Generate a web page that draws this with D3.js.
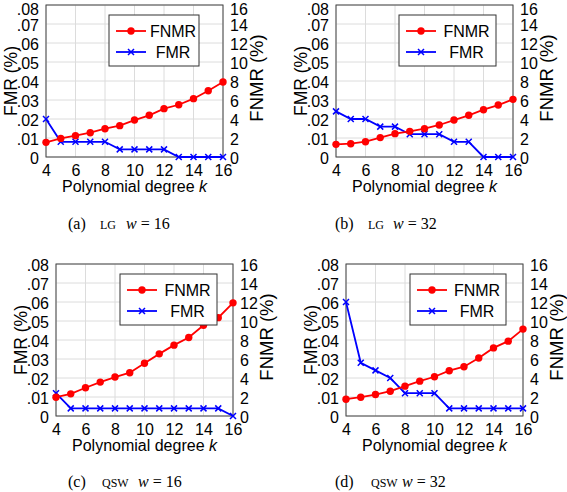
<!DOCTYPE html>
<html>
<head>
<meta charset="utf-8">
<script src="https://cdn.jsdelivr.net/npm/d3@7/dist/d3.min.js"></script>
<style>
  html, body { margin: 0; padding: 0; background: #fff; }
  svg { display: block; }
</style>
</head>
<body>
<svg id="chart" width="567" height="492"></svg>
<script>
// ---- Data ----
const kValues = [4, 5, 6, 7, 8, 9, 10, 11, 12, 13, 14, 15, 16];
const xTicks = [4, 6, 8, 10, 12, 14, 16];
const fmrTicks = [0, 0.01, 0.02, 0.03, 0.04, 0.05, 0.06, 0.07, 0.08];
const fnmrTicks = [0, 2, 4, 6, 8, 10, 12, 14, 16];

const fnmrA = [1.54, 1.96, 2.25, 2.56, 2.98, 3.30, 3.89, 4.39, 5.09, 5.50, 6.14, 6.98, 7.89];
const fmrA  = [0.020, 0.008, 0.008, 0.008, 0.008, 0.004, 0.004, 0.004, 0.004, 0, 0, 0, 0];
const fnmrB = [1.33, 1.40, 1.61, 2.04, 2.46, 2.70, 2.98, 3.37, 3.89, 4.39, 4.98, 5.47, 6.07];
const fmrB  = [0.024, 0.020, 0.020, 0.016, 0.016, 0.012, 0.012, 0.012, 0.008, 0.008, 0, 0, 0];
const fnmrC = [1.98, 2.33, 2.97, 3.57, 4.10, 4.56, 5.55, 6.54, 7.46, 8.27, 9.54, 10.35, 11.91];
const fmrC  = [0.012, 0.004, 0.004, 0.004, 0.004, 0.004, 0.004, 0.004, 0.004, 0.004, 0.004, 0.004, 0];
const fnmrD = [1.77, 1.98, 2.26, 2.61, 3.14, 3.67, 4.13, 4.77, 5.19, 6.11, 7.17, 7.88, 9.15];
const fmrD  = [0.060, 0.028, 0.024, 0.020, 0.012, 0.012, 0.012, 0.004, 0.004, 0.004, 0.004, 0.004, 0.004];

const captionLetters = ["(a)", "(b)", "(c)", "(d)"];
const captionMethods = ["LG", "LG", "QSW", "QSW"];
const captionW = ["16", "32", "16", "32"];
const seriesNames = ["FNMR", "FMR"];

// ---- Layout ----
const panels = [
  { x0: 46,  y0: 5,   fnmr: fnmrA, fmr: fmrA, legX: 109, legW: 90, capX: 68,  capY: 229, mX: 32, wX: 58 },
  { x0: 336, y0: 5,   fnmr: fnmrB, fmr: fmrB, legX: 399, legW: 97, capX: 335, capY: 229, mX: 33, wX: 58 },
  { x0: 56,  y0: 264, fnmr: fnmrC, fmr: fmrC, legX: 120, legW: 97, capX: 68,  capY: 487, mX: 34, wX: 70 },
  { x0: 346, y0: 264, fnmr: fnmrD, fmr: fmrD, legX: 410, legW: 96, capX: 335, capY: 487, mX: 36, wX: 67 }
];
const W = 177, H = 152;
const FONT = "'Liberation Sans', Arial, sans-serif";
const SERIF = "'Liberation Serif', 'DejaVu Serif', serif";
const RED = "#ff0000", BLUE = "#0000ff";

const svg = d3.select("#chart");

function xMark(g, cx, cy, s, color) {
  g.append("path")
    .attr("d", `M${cx - s},${cy - s}L${cx + s},${cy + s}M${cx - s},${cy + s}L${cx + s},${cy - s}`)
    .attr("stroke", color).attr("stroke-width", 1.5).attr("fill", "none");
}

panels.forEach((p, i) => {
  const g = svg.append("g");
  const x = d3.scaleLinear().domain([4, 16]).range([p.x0, p.x0 + W]);
  const yL = d3.scaleLinear().domain([0, 0.08]).range([p.y0 + H, p.y0]);
  const yR = d3.scaleLinear().domain([0, 16]).range([p.y0 + H, p.y0]);

  // grid
  g.append("g").selectAll("line").data(xTicks).join("line")
    .attr("x1", d => x(d)).attr("x2", d => x(d))
    .attr("y1", p.y0).attr("y2", p.y0 + H)
    .attr("stroke", "#dcdcdc").attr("stroke-width", 1);
  g.append("g").selectAll("line").data(fmrTicks).join("line")
    .attr("x1", p.x0).attr("x2", p.x0 + W)
    .attr("y1", d => yL(d)).attr("y2", d => yL(d))
    .attr("stroke", "#dcdcdc").attr("stroke-width", 1);

  // axes
  const fmt = d => d === 0 ? "0" : d3.format(".2f")(d).replace(/^0/, "");
  const axL = g.append("g").attr("transform", `translate(${p.x0},0)`)
    .call(d3.axisLeft(yL).tickValues(fmrTicks).tickFormat(fmt).tickSize(0).tickPadding(7));
  const axR = g.append("g").attr("transform", `translate(${p.x0 + W},0)`)
    .call(d3.axisRight(yR).tickValues(fnmrTicks).tickFormat(d3.format("d")).tickSize(0).tickPadding(7));
  const axB = g.append("g").attr("transform", `translate(0,${p.y0 + H})`)
    .call(d3.axisBottom(x).tickValues(xTicks).tickFormat(d3.format("d")).tickSize(0).tickPadding(8));
  [axL, axR, axB].forEach(a => {
    a.select(".domain").remove();
    a.selectAll("text").attr("font-family", FONT).attr("font-size", 16).attr("fill", "#000");
  });
  // keep the topmost labels inside the page
  const topDy = p.y0 < 10 ? "0.6em" : "0.42em";
  axL.selectAll("text").attr("dy", (d, j) => j === fmrTicks.length - 1 ? topDy : "0.42em");
  axR.selectAll("text").attr("dy", (d, j) => j === fnmrTicks.length - 1 ? topDy : "0.42em");

  // frame
  g.append("rect").attr("x", p.x0).attr("y", p.y0).attr("width", W).attr("height", H)
    .attr("fill", "none").attr("stroke", "#444").attr("stroke-width", 1);

  // axis labels
  g.append("text")
    .attr("transform", `translate(${p.x0 - 29},${p.y0 + H / 2}) rotate(-90)`)
    .attr("text-anchor", "middle").attr("font-family", FONT).attr("font-size", 17.5).attr("fill", "#000")
    .text("FMR (%)");
  g.append("text")
    .attr("transform", `translate(${p.x0 + W + 40},${p.y0 + H / 2 - 3}) rotate(-90)`)
    .attr("text-anchor", "middle").attr("font-family", FONT).attr("font-size", 18.5).attr("fill", "#000")
    .text("FNMR (%)");
  const xl = g.append("text")
    .attr("x", p.x0 + W / 2).attr("y", p.y0 + H + 35)
    .attr("text-anchor", "middle").attr("font-family", FONT).attr("font-size", 16).attr("fill", "#000");
  xl.append("tspan").text("Polynomial degree ");
  xl.append("tspan").attr("font-style", "italic").text("k");

  // FMR line (blue, left axis)
  const fmrData = kValues.map((k, j) => [k, p.fmr[j]]);
  g.append("path").datum(fmrData)
    .attr("d", d3.line().x(d => x(d[0])).y(d => yL(d[1])))
    .attr("fill", "none").attr("stroke", BLUE).attr("stroke-width", 1.8);
  fmrData.forEach(d => xMark(g, x(d[0]), yL(d[1]), 3, BLUE));

  // FNMR line (red, right axis)
  const fnmrData = kValues.map((k, j) => [k, p.fnmr[j]]);
  g.append("path").datum(fnmrData)
    .attr("d", d3.line().x(d => x(d[0])).y(d => yR(d[1])))
    .attr("fill", "none").attr("stroke", RED).attr("stroke-width", 1.8);
  g.append("g").selectAll("circle").data(fnmrData).join("circle")
    .attr("cx", d => x(d[0])).attr("cy", d => yR(d[1])).attr("r", 3.7)
    .attr("fill", RED);

  // legend
  const ly = p.y0 + 10;
  const lg = g.append("g");
  lg.append("rect").attr("x", p.legX).attr("y", ly).attr("width", p.legW).attr("height", 51)
    .attr("fill", "#fff").attr("stroke", "#333").attr("stroke-width", 1);
  const lineX1 = p.legX + 7, lineX2 = p.legX + 37;
  const textC = (p.legX + 41 + p.legX + p.legW - 3) / 2;
  lg.append("line").attr("x1", lineX1).attr("x2", lineX2).attr("y1", ly + 16).attr("y2", ly + 16)
    .attr("stroke", RED).attr("stroke-width", 1.8);
  lg.append("circle").attr("cx", (lineX1 + lineX2) / 2).attr("cy", ly + 16).attr("r", 3.7).attr("fill", RED);
  lg.append("text").attr("x", textC).attr("y", ly + 16).attr("dy", "0.36em")
    .attr("text-anchor", "middle").attr("font-family", FONT).attr("font-size", 16).attr("fill", "#000")
    .text(seriesNames[0]);
  lg.append("line").attr("x1", lineX1).attr("x2", lineX2).attr("y1", ly + 37).attr("y2", ly + 37)
    .attr("stroke", BLUE).attr("stroke-width", 1.8);
  xMark(lg, (lineX1 + lineX2) / 2, ly + 37, 3, BLUE);
  lg.append("text").attr("x", textC).attr("y", ly + 37).attr("dy", "0.36em")
    .attr("text-anchor", "middle").attr("font-family", FONT).attr("font-size", 16).attr("fill", "#000")
    .text(seriesNames[1]);

  // caption
  const cg = svg.append("g").attr("font-family", SERIF).attr("fill", "#000");
  cg.append("text").attr("x", p.capX).attr("y", p.capY).attr("font-size", 16).text(captionLetters[i]);
  cg.append("text").attr("x", p.capX + p.mX).attr("y", p.capY).attr("font-size", 12).text(captionMethods[i]);
  const wt = cg.append("text").attr("x", p.capX + p.wX).attr("y", p.capY).attr("font-size", 16);
  wt.append("tspan").attr("font-style", "italic").text("w");
  wt.append("tspan").text(" = " + captionW[i]);
});
</script>
</body>
</html>
